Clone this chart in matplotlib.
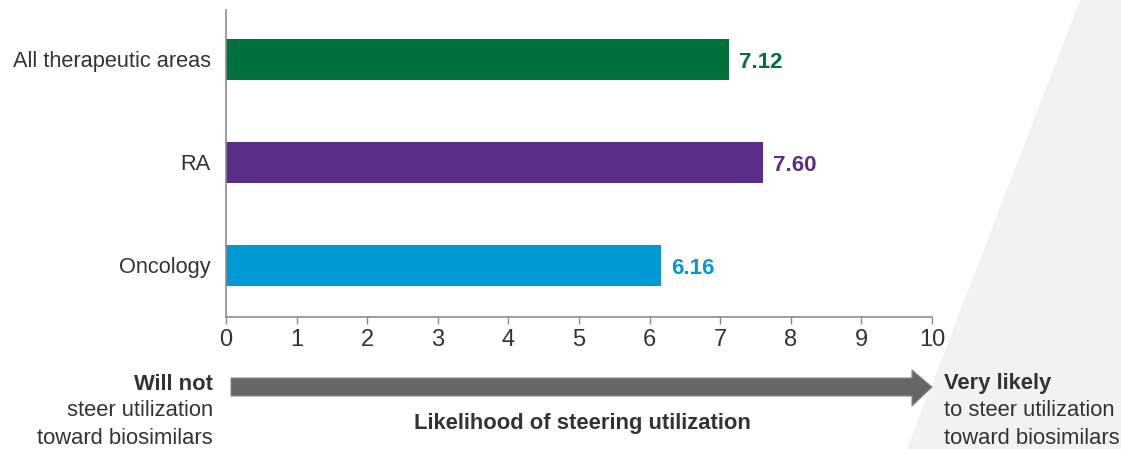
import matplotlib.pyplot as plt
from matplotlib.patches import Polygon

plt.rcParams['font.family'] = ['Liberation Sans', 'DejaVu Sans']

categories = ['All therapeutic areas', 'RA', 'Oncology']
scores = [7.12, 7.60, 6.16]
bar_colors = ['#00703c', '#5a2d88', '#0099d4']
x_ticks = list(range(0, 11))

W, H = 1121, 449
text_color = '#333333'
axis_color = '#8c8c8c'


def px(points):
    """Convert pixel coordinates (origin top-left) to figure fractions."""
    return [(x / W, 1 - y / H) for x, y in points]


fig = plt.figure(figsize=(W / 100, H / 100), dpi=100)

# light diagonal panel on the right
fig.add_artist(Polygon(px([(1080, 0), (W, 0), (W, H), (907, H)]),
                       closed=True, transform=fig.transFigure,
                       facecolor='#f1f2f4', edgecolor='none', zorder=0))

ax = fig.add_axes([226 / W, 1 - 317 / H, (932 - 226) / W, (317 - 10) / H])
ax.set_facecolor('none')

y = range(len(categories))
ax.barh(y, scores, height=0.4, color=bar_colors, zorder=2)
for yi, val, col in zip(y, scores, bar_colors):
    ax.annotate(f'{val:.2f}', (val, yi), xytext=(7.5, -2),
                textcoords='offset points', va='center', ha='left',
                fontsize=16, fontweight='bold', color=col)

ax.set_xlim(0, 10)
ax.set_ylim(2.5, -0.48)
ax.set_xticks(x_ticks)
ax.set_yticks(list(y))
ax.set_yticklabels(categories)
ax.tick_params(axis='y', length=0, pad=11, labelsize=15.7, labelcolor=text_color)
ax.tick_params(axis='x', length=5, width=1, color=axis_color, pad=4,
               labelsize=17, labelcolor=text_color)
for side in ['top', 'right']:
    ax.spines[side].set_visible(False)
for side in ['left', 'bottom']:
    ax.spines[side].set_color(axis_color)
    ax.spines[side].set_linewidth(1.2)

# direction arrow under the axis
body_top, body_bot, head_top, head_bot = 378, 396, 370, 406
head_start, tip = 912, 932
mid = (body_top + body_bot) / 2
fig.add_artist(Polygon(px([(231, body_top), (head_start, body_top),
                           (head_start, head_top), (tip, mid),
                           (head_start, head_bot), (head_start, body_bot),
                           (231, body_bot)]),
                       closed=True, transform=fig.transFigure,
                       facecolor='#666666', edgecolor='#8a8a8a',
                       linewidth=0.8, zorder=3))

fs = 15.8
fig.text(213 / W, 1 - 384 / H, 'Will not', ha='right', va='center',
         fontsize=fs, fontweight='bold', color=text_color)
fig.text(213 / W, 1 - 411 / H, 'steer utilization', ha='right', va='center',
         fontsize=fs, color=text_color)
fig.text(213 / W, 1 - 438 / H, 'toward biosimilars', ha='right', va='center',
         fontsize=fs, color=text_color)

fig.text(944 / W, 1 - 384 / H, 'Very likely', ha='left', va='center',
         fontsize=fs, fontweight='bold', color=text_color)
fig.text(944 / W, 1 - 411 / H, 'to steer utilization', ha='left', va='center',
         fontsize=fs, color=text_color)
fig.text(944 / W, 1 - 438 / H, 'toward biosimilars', ha='left', va='center',
         fontsize=fs, color=text_color)

fig.text(582 / W, 1 - 423 / H, 'Likelihood of steering utilization',
         ha='center', va='center', fontsize=fs, fontweight='bold',
         color=text_color)

fig.savefig('out.png', dpi=100)
